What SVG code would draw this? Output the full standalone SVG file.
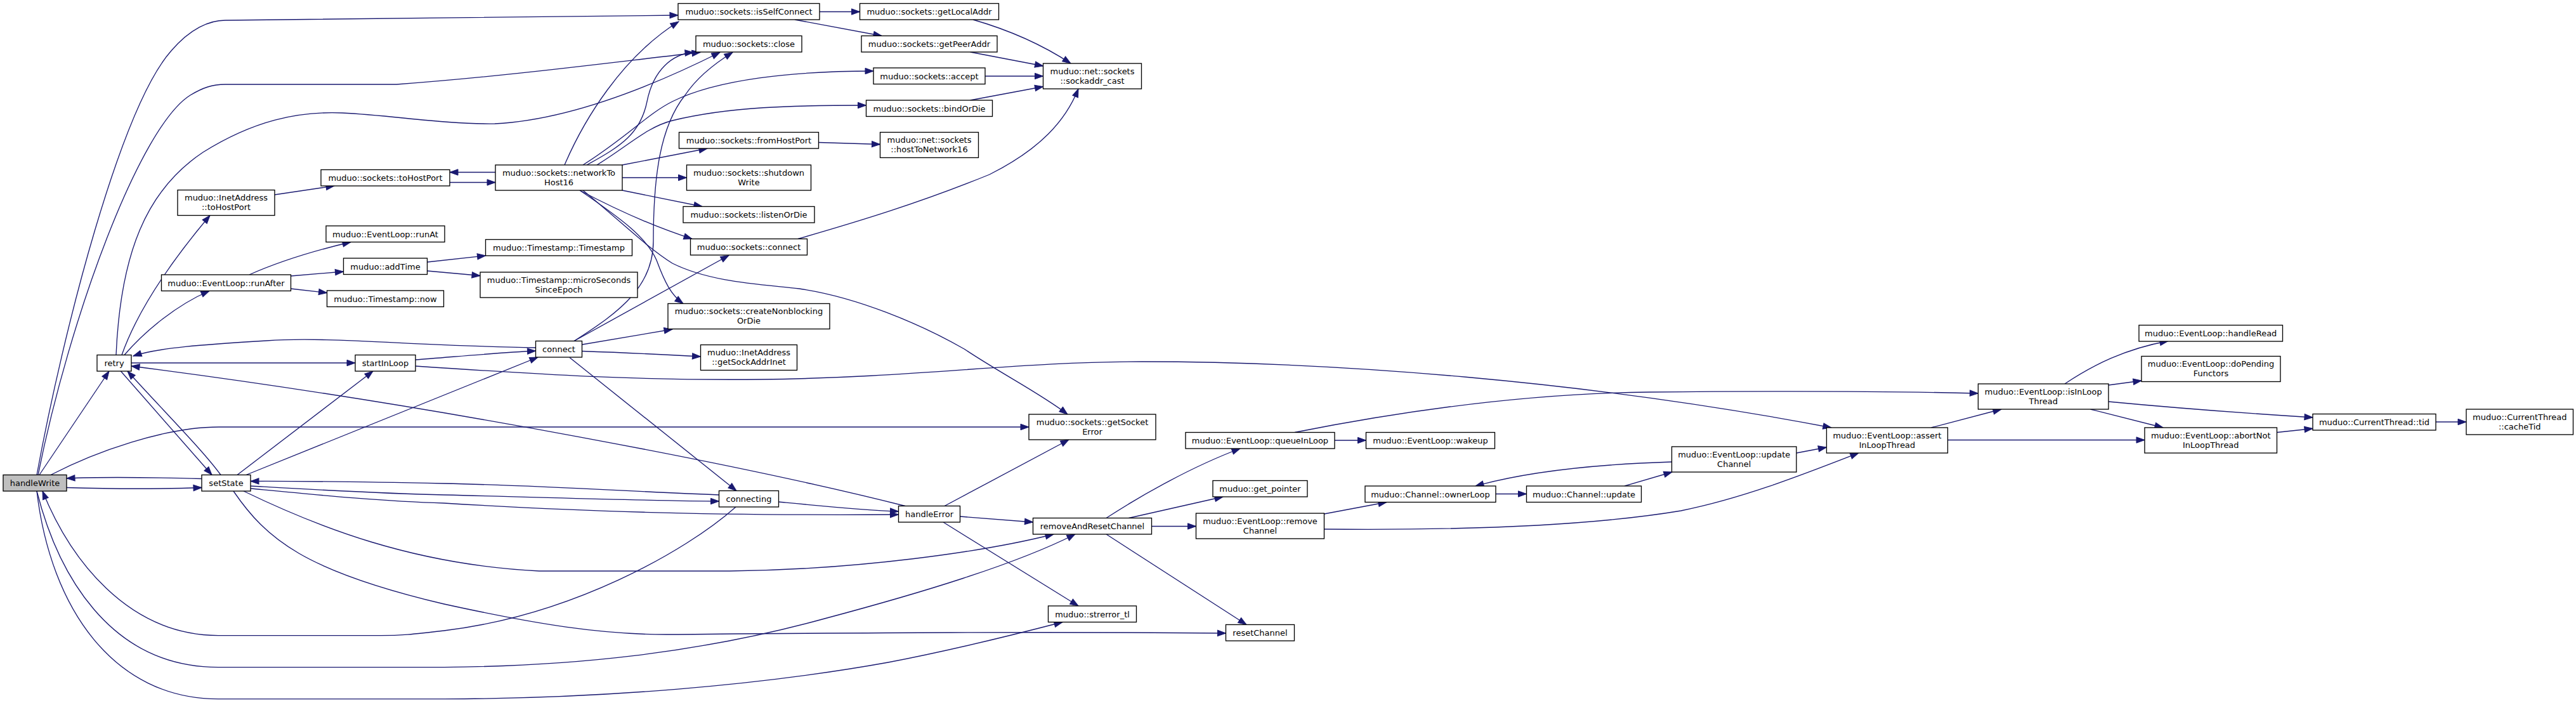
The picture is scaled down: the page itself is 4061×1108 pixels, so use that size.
<svg xmlns="http://www.w3.org/2000/svg" width="4061" height="1108" viewBox="0 0 4061 1108">
<style>
.n rect{fill:#ffffff;stroke:#000000;stroke-width:1.33}
.n.root rect{fill:#bfbfbf}
.n text{font-family:"DejaVu Sans","Liberation Sans",sans-serif;font-size:13px;text-anchor:middle;fill:#000000}
.e path{fill:none;stroke:#191970;stroke-width:1.33;marker-end:url(#ah)}
</style>
<defs>
<marker id="ah" markerUnits="userSpaceOnUse" markerWidth="16" markerHeight="12" refX="13" refY="4.7" orient="auto" overflow="visible">
<path d="M0,0 L13,4.7 L0,9.4 Z" fill="#191970" stroke="#191970" stroke-width="1"/>
</marker>
</defs>
<rect x="0" y="0" width="4061" height="1108" fill="#ffffff"/>
<g id="edges" class="e">
<path d="M62,748.5 L172,585"/>
<path d="M105,768.5 C190,771 250,771 318,768.5"/>
<path d="M318,754.5 C260,753 170,751 105,754"/>
<path d="M80,748.5 C150,712 260,673 345,673 L1622,673"/>
<path d="M58,748.5 C100,520 190,170 270,80 C300,45 330,32 355,32 L1069,24"/>
<path d="M60,748.5 C110,500 220,200 300,150 C320,138 335,133 355,133 L625,133 C800,120 950,100 1104,82.5"/>
<path d="M183,559.5 C190,400 230,300 320,240 C400,190 470,175 540,178 C620,182 700,196 780,195 C880,190 1000,150 1135,82.5"/>
<path d="M192,559.5 C220,480 280,400 331,339.5"/>
<path d="M196,559.5 C230,520 280,480 330,458.5"/>
<path d="M190,584.5 L334,748.5"/>
<path d="M348,748.5 C320,710 260,650 201,585"/>
<path d="M207,572 L560,572"/>
<path d="M1427,797.5 C1200,740 700,640 207,577"/>
<path d="M844.5,548 C650,545 520,530 420,537 C320,543 250,548 210,561"/>
<path d="M655,567 C700,564 780,556 844.5,553"/>
<path d="M655,577 C850,590 1000,600 1200,598 C1450,595 1600,570 1800,570 C2100,570 2500,600 2887,674"/>
<path d="M374,748.5 L588,585"/>
<path d="M388,748.5 L848,563"/>
<path d="M395,766 C500,772 600,778 700,780 C900,785 1050,790 1133.5,790"/>
<path d="M1133.5,780 C1000,775 850,765 700,762 C600,760 500,758 395,758.5"/>
<path d="M395,770 C500,780 600,790 700,793 C900,805 1100,813 1416.5,811"/>
<path d="M1227.5,791 C1300,798 1360,804 1416.5,806"/>
<path d="M384,774 C500,830 650,890 850,900 L1150,900 C1350,898 1550,870 1661,842"/>
<path d="M368,774 C420,850 480,900 700,952 C850,985 950,1000 1050,1000 C1300,998 1600,995 1932.5,998"/>
<path d="M905,537.5 C980,490 1030,450 1030,380 C1030,280 1040,200 1080,150 C1100,120 1130,98 1155,82.5"/>
<path d="M905,537.5 L1149,402.5"/>
<path d="M918,543 L1060,519"/>
<path d="M918,553.5 C990,556 1050,559 1104.5,562"/>
<path d="M898,563.5 L1161,773.5"/>
<path d="M709,287.5 L781,287.5"/>
<path d="M781,271.5 L709,271.5"/>
<path d="M432.5,307 L527,293"/>
<path d="M393,433 C440,412 500,394 553,381.5"/>
<path d="M458.5,435 L541.5,428"/>
<path d="M458.5,455 L515.5,461.5"/>
<path d="M674,413 L765.5,403"/>
<path d="M674,427 L757,434.5"/>
<path d="M890,260 C920,190 980,90 1070,34"/>
<path d="M925,260 C980,230 1010,210 1020,160 C1030,110 1060,85 1093,82.5"/>
<path d="M919,260 C990,215 1020,180 1060,160 C1130,125 1250,112 1377,112"/>
<path d="M941,260 C990,230 1020,200 1060,190 C1150,168 1250,166 1365.5,166"/>
<path d="M981,260 L1115,234"/>
<path d="M981,280 L1082.5,280"/>
<path d="M981,300 L1107,325.5"/>
<path d="M914,300 C980,335 1040,360 1091,376.5"/>
<path d="M914,300 C980,345 1020,375 1035,410 C1048,445 1058,465 1077,478.5"/>
<path d="M919,300 C980,350 1020,390 1060,415 C1120,445 1200,448 1260,455 C1350,468 1450,510 1520,550 C1580,590 1640,620 1683,653"/>
<path d="M1258,376.5 C1350,350 1450,320 1560,275 C1640,235 1680,190 1700,140"/>
<path d="M1292,18.5 L1355.5,18.5"/>
<path d="M1253,31 L1390,56.5"/>
<path d="M1534,31 C1600,50 1650,75 1688,100"/>
<path d="M1529.5,82 L1644.5,104"/>
<path d="M1553,120 L1644.5,120"/>
<path d="M1529.5,158 L1644.5,136.5"/>
<path d="M1290.5,224.5 L1387.5,227.5"/>
<path d="M1489,797.5 L1685,693"/>
<path d="M1513.5,814 L1628.5,823"/>
<path d="M1487,823 L1700,955"/>
<path d="M1744,816.5 C1800,780 1880,735 1955,707"/>
<path d="M1779.5,816.5 L1928,783"/>
<path d="M1815.5,829.5 L1885.5,829.5"/>
<path d="M1744,842 L1965,984.5"/>
<path d="M58,774 C90,900 170,1051.6 344,1051.6 L700,1051.6 C900,1050 1100,1030 1300,975 C1450,935 1600,890 1695,842"/>
<path d="M58,774 C80,960 180,1101.6 344,1101.6 L700,1101.6 C950,1101 1200,1080 1400,1044 C1500,1025 1600,1000 1675,980.5"/>
<path d="M1160,799 C1080,870 900,970 700,994 C650,1000 630,1001.6 600,1001.6 L344,1001.6 C200,1001 110,880 67,774"/>
<path d="M2087.5,810 L2186,791.5"/>
<path d="M2087.5,834 C2300,836 2500,830 2650,805 C2750,785 2850,745 2930,714"/>
<path d="M2358,778.5 L2406.5,778.5"/>
<path d="M2561,766 L2636,744"/>
<path d="M2635.5,728 C2540,731 2420,740 2326,766"/>
<path d="M2832,714 L2879.5,705"/>
<path d="M2104,694 L2153.5,694"/>
<path d="M2041,681.5 C2200,650 2400,620 2600,618 C2800,616 3000,617 3118.5,620"/>
<path d="M3044.5,674 L3155,645"/>
<path d="M3070.5,693.5 L3381,693.5"/>
<path d="M3255,605 C3300,575 3350,550 3418,537.5"/>
<path d="M3324,607 L3376,600"/>
<path d="M3324,633 C3450,645 3550,652 3646,658"/>
<path d="M3295.5,645 L3410,674"/>
<path d="M3589.5,681.5 L3646,675.5"/>
<path d="M3839.5,665 L3888,665"/>
</g>
<g id="node-handleWrite" class="n root"><rect x="5" y="748.5" width="100" height="25.5"/><text x="55" y="766">handleWrite</text></g>
<g id="node-retry" class="n"><rect x="153" y="559.5" width="54" height="25.5"/><text x="180" y="577">retry</text></g>
<g id="node-setState" class="n"><rect x="318" y="748.5" width="77" height="25.5"/><text x="356.5" y="766">setState</text></g>
<g id="node-inetToHostPort" class="n"><rect x="280" y="299.5" width="153" height="40"/><text x="356.5" y="316">muduo::InetAddress</text><text x="356.5" y="331">::toHostPort</text></g>
<g id="node-runAfter" class="n"><rect x="254.5" y="433" width="204" height="25.5"/><text x="356.5" y="450.5">muduo::EventLoop::runAfter</text></g>
<g id="node-toHostPort" class="n"><rect x="506" y="267.5" width="203" height="25.5"/><text x="607.5" y="285">muduo::sockets::toHostPort</text></g>
<g id="node-runAt" class="n"><rect x="514" y="356" width="187" height="25.5"/><text x="607.5" y="373.5">muduo::EventLoop::runAt</text></g>
<g id="node-addTime" class="n"><rect x="541.5" y="407" width="132" height="25.5"/><text x="607.5" y="424.5">muduo::addTime</text></g>
<g id="node-now" class="n"><rect x="515.5" y="458" width="184" height="25.5"/><text x="607.5" y="475.5">muduo::Timestamp::now</text></g>
<g id="node-startInLoop" class="n"><rect x="560" y="559.5" width="95" height="25.5"/><text x="607.5" y="577">startInLoop</text></g>
<g id="node-networkToHost16" class="n"><rect x="781" y="260" width="200" height="40"/><text x="881" y="276.5">muduo::sockets::networkTo</text><text x="881" y="291.5">Host16</text></g>
<g id="node-timestamp" class="n"><rect x="765.5" y="377.5" width="231" height="25.5"/><text x="881" y="395">muduo::Timestamp::Timestamp</text></g>
<g id="node-microSeconds" class="n"><rect x="757" y="429" width="248" height="40"/><text x="881" y="445.5">muduo::Timestamp::microSeconds</text><text x="881" y="460.5">SinceEpoch</text></g>
<g id="node-connect" class="n"><rect x="844.5" y="537.5" width="73" height="25.5"/><text x="881" y="555">connect</text></g>
<g id="node-isSelfConnect" class="n"><rect x="1069" y="5.5" width="223" height="25.5"/><text x="1180.5" y="23">muduo::sockets::isSelfConnect</text></g>
<g id="node-close" class="n"><rect x="1097" y="56.5" width="167" height="25.5"/><text x="1180.5" y="74">muduo::sockets::close</text></g>
<g id="node-fromHostPort" class="n"><rect x="1070.5" y="208.5" width="220" height="25.5"/><text x="1180.5" y="226">muduo::sockets::fromHostPort</text></g>
<g id="node-shutdownWrite" class="n"><rect x="1082.5" y="260" width="196" height="40"/><text x="1180.5" y="276.5">muduo::sockets::shutdown</text><text x="1180.5" y="291.5">Write</text></g>
<g id="node-listenOrDie" class="n"><rect x="1077" y="325.5" width="207" height="25.5"/><text x="1180.5" y="343">muduo::sockets::listenOrDie</text></g>
<g id="node-socketsConnect" class="n"><rect x="1088.5" y="376.5" width="184" height="25.5"/><text x="1180.5" y="394">muduo::sockets::connect</text></g>
<g id="node-createNonblocking" class="n"><rect x="1053" y="478.5" width="255" height="40"/><text x="1180.5" y="495">muduo::sockets::createNonblocking</text><text x="1180.5" y="510">OrDie</text></g>
<g id="node-getSockAddrInet" class="n"><rect x="1104.5" y="543.5" width="152" height="40"/><text x="1180.5" y="560">muduo::InetAddress</text><text x="1180.5" y="575">::getSockAddrInet</text></g>
<g id="node-connecting" class="n"><rect x="1133.5" y="773.5" width="94" height="25.5"/><text x="1180.5" y="791">connecting</text></g>
<g id="node-getLocalAddr" class="n"><rect x="1355.5" y="5.5" width="219" height="25.5"/><text x="1465" y="23">muduo::sockets::getLocalAddr</text></g>
<g id="node-getPeerAddr" class="n"><rect x="1358" y="56.5" width="214" height="25.5"/><text x="1465" y="74">muduo::sockets::getPeerAddr</text></g>
<g id="node-accept" class="n"><rect x="1377" y="107" width="176" height="25.5"/><text x="1465" y="124.5">muduo::sockets::accept</text></g>
<g id="node-bindOrDie" class="n"><rect x="1365.5" y="158" width="199" height="25.5"/><text x="1465" y="175.5">muduo::sockets::bindOrDie</text></g>
<g id="node-hostToNetwork16" class="n"><rect x="1387.5" y="208.5" width="155" height="40"/><text x="1465" y="225">muduo::net::sockets</text><text x="1465" y="240">::hostToNetwork16</text></g>
<g id="node-handleError" class="n"><rect x="1416.5" y="797.5" width="97" height="25.5"/><text x="1465" y="815">handleError</text></g>
<g id="node-sockaddrCast" class="n"><rect x="1644.5" y="100" width="155" height="40"/><text x="1722" y="116.5">muduo::net::sockets</text><text x="1722" y="131.5">::sockaddr_cast</text></g>
<g id="node-getSocketError" class="n"><rect x="1622" y="653" width="200" height="40"/><text x="1722" y="669.5">muduo::sockets::getSocket</text><text x="1722" y="684.5">Error</text></g>
<g id="node-removeAndResetChannel" class="n"><rect x="1628.5" y="816.5" width="187" height="25.5"/><text x="1722" y="834">removeAndResetChannel</text></g>
<g id="node-strerror" class="n"><rect x="1652.5" y="955" width="139" height="25.5"/><text x="1722" y="972.5">muduo::strerror_tl</text></g>
<g id="node-queueInLoop" class="n"><rect x="1869" y="681.5" width="235" height="25.5"/><text x="1986.5" y="699">muduo::EventLoop::queueInLoop</text></g>
<g id="node-getPointer" class="n"><rect x="1912" y="757.5" width="149" height="25.5"/><text x="1986.5" y="775">muduo::get_pointer</text></g>
<g id="node-removeChannel" class="n"><rect x="1885.5" y="809" width="202" height="40"/><text x="1986.5" y="825.5">muduo::EventLoop::remove</text><text x="1986.5" y="840.5">Channel</text></g>
<g id="node-resetChannel" class="n"><rect x="1932.5" y="984.5" width="108" height="25.5"/><text x="1986.5" y="1002">resetChannel</text></g>
<g id="node-wakeup" class="n"><rect x="2153.5" y="681.5" width="203" height="25.5"/><text x="2255" y="699">muduo::EventLoop::wakeup</text></g>
<g id="node-ownerLoop" class="n"><rect x="2152" y="766" width="206" height="25.5"/><text x="2255" y="783.5">muduo::Channel::ownerLoop</text></g>
<g id="node-channelUpdate" class="n"><rect x="2406.5" y="766" width="181" height="25.5"/><text x="2497" y="783.5">muduo::Channel::update</text></g>
<g id="node-updateChannel" class="n"><rect x="2635.5" y="704" width="196.5" height="40"/><text x="2733.75" y="720.5">muduo::EventLoop::update</text><text x="2733.75" y="735.5">Channel</text></g>
<g id="node-assertInLoopThread" class="n"><rect x="2879.5" y="674" width="191" height="40"/><text x="2975" y="690.5">muduo::EventLoop::assert</text><text x="2975" y="705.5">InLoopThread</text></g>
<g id="node-isInLoopThread" class="n"><rect x="3118.5" y="605" width="205.5" height="40"/><text x="3221.25" y="621.5">muduo::EventLoop::isInLoop</text><text x="3221.25" y="636.5">Thread</text></g>
<g id="node-handleRead" class="n"><rect x="3372" y="512.5" width="226.5" height="25.5"/><text x="3485.25" y="530">muduo::EventLoop::handleRead</text></g>
<g id="node-doPendingFunctors" class="n"><rect x="3376" y="561.5" width="219" height="40"/><text x="3485.5" y="578">muduo::EventLoop::doPending</text><text x="3485.5" y="593">Functors</text></g>
<g id="node-abortNotInLoopThread" class="n"><rect x="3381" y="674" width="208.5" height="40"/><text x="3485.25" y="690.5">muduo::EventLoop::abortNot</text><text x="3485.25" y="705.5">InLoopThread</text></g>
<g id="node-tid" class="n"><rect x="3646" y="652.5" width="194" height="25.5"/><text x="3743" y="670">muduo::CurrentThread::tid</text></g>
<g id="node-cacheTid" class="n"><rect x="3888" y="645" width="168.5" height="40"/><text x="3972.25" y="661.5">muduo::CurrentThread</text><text x="3972.25" y="676.5">::cacheTid</text></g>
</svg>
